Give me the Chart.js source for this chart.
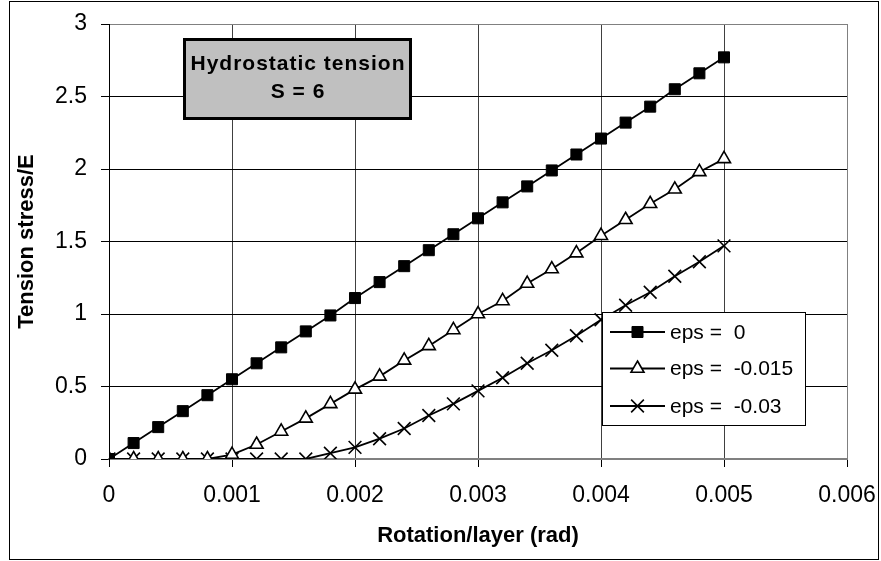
<!DOCTYPE html>
<html>
<head>
<meta charset="utf-8">
<script src="https://cdn.jsdelivr.net/npm/chart.js@4"></script>
<style>
  html, body { margin: 0; padding: 0; background: #fff; }
  #wrap { width: 881px; height: 561px; }
</style>
</head>
<body>
<div id="wrap"><canvas id="myChart" width="881" height="561"></canvas></div>
<script>
// rotation per layer (rad)
const rotation = [0, 0.0002, 0.0004, 0.0006, 0.0008, 0.001, 0.0012, 0.0014, 0.0016, 0.0018,
  0.002, 0.0022, 0.0024, 0.0026, 0.0028, 0.003, 0.0032, 0.0034, 0.0036, 0.0038,
  0.004, 0.0042, 0.0044, 0.0046, 0.0048, 0.005];

const eps0 = [0, 0.11, 0.22, 0.33, 0.44, 0.55, 0.66, 0.77, 0.88, 0.99,
  1.11, 1.22, 1.33, 1.44, 1.55, 1.66, 1.77, 1.88, 1.99, 2.10,
  2.21, 2.32, 2.43, 2.55, 2.66, 2.77];

const eps015 = [0, 0, 0, 0, 0, 0.03, 0.10, 0.19, 0.28, 0.38,
  0.48, 0.57, 0.68, 0.78, 0.89, 1.00, 1.09, 1.21, 1.31, 1.42,
  1.54, 1.65, 1.76, 1.86, 1.98, 2.07];

const eps03 = [0, 0, 0, 0, 0, 0, 0, 0, 0, 0.04,
  0.08, 0.14, 0.21, 0.30, 0.38, 0.47, 0.56, 0.66, 0.75, 0.85,
  0.96, 1.06, 1.15, 1.26, 1.36, 1.47];

const seriesLabels = ['eps =  0', 'eps =  -0.015', 'eps =  -0.03'];
const boxLines = ['Hydrostatic tension', 'S = 6'];

const FONT = '"Liberation Sans", Arial, sans-serif';

function pts(ys) {
  return rotation.map((x, i) => ({ x: x, y: ys[i] }));
}

// annotation box, legend and outer frame
const extras = {
  id: 'extras',
  afterDraw(chart) {
    const ctx = chart.ctx;
    ctx.save();

    // outer frame
    ctx.strokeStyle = '#000';
    ctx.lineWidth = 1;
    ctx.strokeRect(9.5, 1.5, 869, 558);

    // text box
    ctx.fillStyle = '#c0c0c0';
    ctx.fillRect(183, 38, 229, 82);
    ctx.lineWidth = 3;
    ctx.strokeStyle = '#000';
    ctx.strokeRect(184.5, 39.5, 226, 79);
    ctx.fillStyle = '#000';
    ctx.font = 'bold 21px ' + FONT;
    ctx.letterSpacing = '1px';
    ctx.textAlign = 'center';
    ctx.textBaseline = 'middle';
    ctx.fillText(boxLines[0], 298, 64);
    ctx.fillText(boxLines[1], 298, 92);
    ctx.letterSpacing = '0px';

    // legend
    ctx.fillStyle = '#fff';
    ctx.fillRect(602, 312, 203, 113);
    ctx.lineWidth = 1;
    ctx.strokeStyle = '#000';
    ctx.strokeRect(602.5, 312.5, 203, 113);
    const rows = [332, 368.5, 406];
    chart.data.datasets.forEach((ds, i) => {
      const y = rows[i];
      ctx.strokeStyle = '#000';
      ctx.lineWidth = 1.8;
      ctx.beginPath();
      ctx.moveTo(610, y);
      ctx.lineTo(665, y);
      ctx.stroke();
      ctx.fillStyle = ds.pointBackgroundColor;
      ctx.strokeStyle = ds.pointBorderColor;
      ctx.lineWidth = ds.pointBorderWidth;
      Chart.helpers.drawPoint(ctx, {
        pointStyle: ds.pointStyle,
        radius: ds.pointRadius,
        rotation: 0,
        borderWidth: ds.pointBorderWidth
      }, 637.5, y);
      ctx.fillStyle = '#000';
      ctx.font = '21px ' + FONT;
      ctx.textAlign = 'left';
      ctx.textBaseline = 'middle';
      ctx.fillText(ds.label, 670, y + 1);
    });

    ctx.restore();
  }
};

const ctx = document.getElementById('myChart');

new Chart(ctx, {
  type: 'line',
  data: {
    datasets: [{
      label: seriesLabels[0],
      data: pts(eps0),
      borderColor: '#000',
      borderWidth: 1.8,
      pointStyle: 'rect',
      pointRadius: 7.8,
      pointBackgroundColor: '#000',
      pointBorderColor: '#000',
      pointBorderWidth: 1,
      tension: 0
    }, {
      label: seriesLabels[1],
      data: pts(eps015),
      borderColor: '#000',
      borderWidth: 1.8,
      pointStyle: 'triangle',
      pointRadius: 7.5,
      pointBackgroundColor: '#fff',
      pointBorderColor: '#000',
      pointBorderWidth: 1.6,
      tension: 0
    }, {
      label: seriesLabels[2],
      data: pts(eps03),
      borderColor: '#000',
      borderWidth: 1.8,
      pointStyle: 'crossRot',
      pointRadius: 9,
      pointBackgroundColor: '#000',
      pointBorderColor: '#000',
      pointBorderWidth: 1.6,
      tension: 0
    }]
  },
  options: {
    responsive: false,
    animation: false,
    layout: { padding: { left: 0, top: 24, right: 34, bottom: 0 } },
    plugins: {
      legend: { display: false },
      tooltip: { enabled: false }
    },
    scales: {
      x: {
        type: 'linear',
        min: 0,
        max: 0.006,
        afterFit: s => {
          s.height = 102;
          s.paddingLeft = 0;
          s.paddingRight = 0;
        },
        ticks: {
          stepSize: 0.001,
          color: '#000',
          padding: 15,
          font: { family: FONT, size: 23 },
          callback: v => String(Number(v.toFixed(3)))
        },
        grid: {
          color: c => (c.tick && Math.abs(c.tick.value - 0.006) < 1e-9) ? '#808080' : '#404040',
          lineWidth: 1,
          tickLength: 8,
          tickColor: '#000'
        },
        border: { color: '#808080', width: 1.5 },
        title: {
          display: true,
          text: 'Rotation/layer (rad)',
          color: '#000',
          font: { family: FONT, size: 22, weight: 'bold' },
          padding: { top: 0, bottom: 12 }
        }
      },
      y: {
        min: 0,
        max: 3,
        afterFit: s => {
          s.width = 109;
          s.paddingTop = 0;
          s.paddingBottom = 0;
        },
        ticks: {
          stepSize: 0.5,
          color: '#000',
          padding: 14,
          font: { family: FONT, size: 23 },
          callback: v => String(Number(v.toFixed(1)))
        },
        grid: {
          color: c => (c.tick && (c.tick.value === 3 || c.tick.value === 0)) ? '#808080' : '#000',
          lineWidth: 1,
          tickLength: 8,
          tickColor: '#000'
        },
        border: { color: '#000', width: 1 },
        title: {
          display: true,
          text: 'Tension stress/E',
          color: '#000',
          font: { family: FONT, size: 22, weight: 'bold' },
          padding: { top: 14, bottom: 0 }
        }
      }
    }
  },
  plugins: [extras]
});
</script>
</body>
</html>
